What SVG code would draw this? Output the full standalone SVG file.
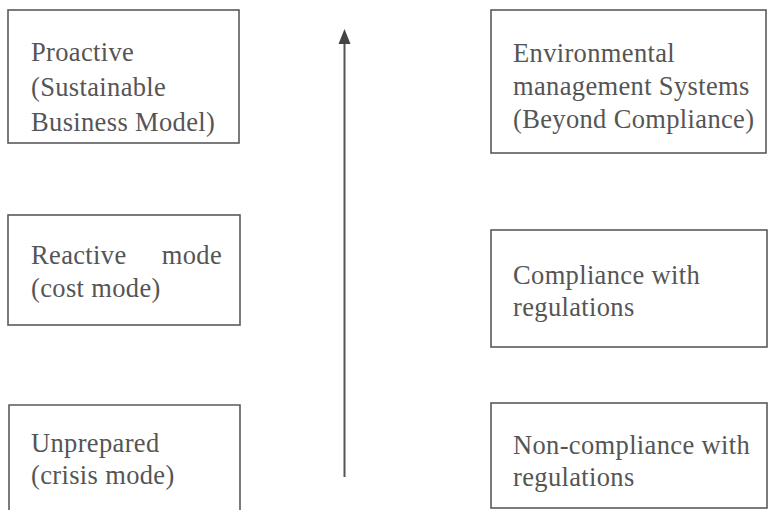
<svg xmlns="http://www.w3.org/2000/svg" width="776" height="510" viewBox="0 0 776 510">
<style>
.box{fill:none;stroke:#5a5a5a;stroke-width:1.6}
.t{font-family:"Liberation Serif","Times New Roman",serif;font-size:26.5px;letter-spacing:0.35px;fill:#555}
.conn{stroke:#555;stroke-width:2;fill:none}
.head{fill:#444}
</style>
<rect width="776" height="510" fill="#fff"/>
<g id="n-proactive">
<rect class="box" x="8" y="10" width="231" height="133"/>
<text class="t" x="31" y="61">Proactive</text>
<text class="t" x="31" y="96">(Sustainable</text>
<text class="t" x="31" y="131">Business Model)</text>
</g>
<g id="n-ems">
<rect class="box" x="491" y="10" width="275" height="143"/>
<text class="t" x="513" y="62">Environmental</text>
<text class="t" x="513" y="95">management Systems</text>
<text class="t" x="513" y="128">(Beyond Compliance)</text>
</g>
<g id="n-reactive">
<rect class="box" x="8" y="215" width="232" height="110"/>
<text class="t" x="31" y="264">Reactive</text>
<text class="t" x="222" y="264" text-anchor="end">mode</text>
<text class="t" x="31" y="297">(cost mode)</text>
</g>
<g id="n-compliance">
<rect class="box" x="491" y="230" width="276" height="117"/>
<text class="t" x="513" y="284">Compliance with</text>
<text class="t" x="513" y="316">regulations</text>
</g>
<g id="n-unprepared">
<polyline class="box" points="9,512 9,405 240,405 240,512"/>
<text class="t" x="31" y="452">Unprepared</text>
<text class="t" x="31" y="484">(crisis mode)</text>
</g>
<g id="n-noncompliance">
<rect class="box" x="491" y="403" width="276" height="105"/>
<text class="t" x="513" y="454">Non-compliance with</text>
<text class="t" x="513" y="486">regulations</text>
</g>
<g id="connectors">
<line class="conn" x1="344.5" y1="477" x2="344.5" y2="40"/>
<polygon class="head" points="344.5,29 338.5,44 350.5,44"/>
</g>
</svg>
